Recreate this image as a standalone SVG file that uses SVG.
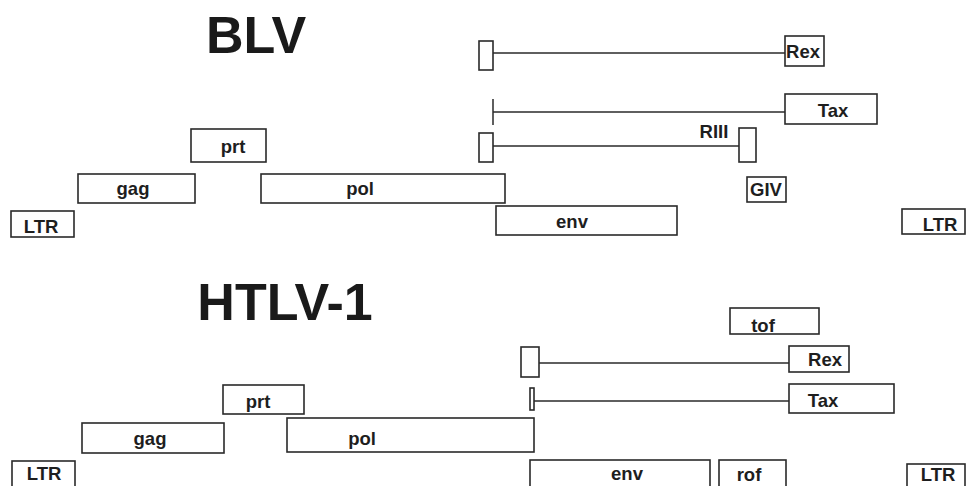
<svg xmlns="http://www.w3.org/2000/svg" width="967" height="486" viewBox="0 0 967 486">
<style>
.b{fill:#fff;stroke:#2a2a2a;stroke-width:1.6}
.t{font-family:"Liberation Sans",Arial,sans-serif;font-weight:bold;font-size:18.5px;fill:#1e1e1e;text-anchor:middle}
.h{font-family:"Liberation Sans",Arial,sans-serif;font-weight:bold;font-size:52px;fill:#1a1a1a;text-anchor:middle}
.c{stroke:#2a2a2a;stroke-width:1.5;fill:none}
</style>
<rect width="967" height="486" fill="#fff"/>
<text class="h" x="256" y="53">BLV</text>
<text class="h" x="285" y="320">HTLV-1</text>

<g id="connectors">
<line class="c" x1="493" y1="53" x2="786" y2="53"/>
<line class="c" x1="493" y1="99" x2="493" y2="125"/>
<line class="c" x1="493" y1="112" x2="785" y2="112"/>
<line class="c" x1="493" y1="146" x2="739" y2="146"/>
<line class="c" x1="539" y1="363" x2="789" y2="363"/>
<line class="c" x1="534" y1="401" x2="789" y2="401"/>
</g>

<g id="blv-ltr-left"><rect class="b" x="11" y="211" width="63" height="26"/><text class="t" x="41" y="233">LTR</text></g>
<g id="blv-gag"><rect class="b" x="78" y="174" width="117" height="29"/><text class="t" x="133" y="195">gag</text></g>
<g id="blv-prt"><rect class="b" x="191" y="129" width="75" height="33"/><text class="t" x="233" y="153">prt</text></g>
<g id="blv-pol"><rect class="b" x="261" y="174" width="244" height="29"/><text class="t" x="360" y="195">pol</text></g>
<g id="blv-env"><rect class="b" x="496" y="206" width="181" height="29"/><text class="t" x="572" y="228">env</text></g>
<g id="blv-ltr-right"><rect class="b" x="902" y="209" width="63" height="25"/><text class="t" x="940" y="231">LTR</text></g>
<g id="blv-rex"><rect class="b" x="479" y="41" width="14" height="29"/><rect class="b" x="785" y="36" width="39" height="30"/><text class="t" x="803" y="58">Rex</text></g>
<g id="blv-tax"><rect class="b" x="785" y="94" width="92" height="30"/><text class="t" x="833" y="117">Tax</text></g>
<g id="blv-riii"><rect class="b" x="479" y="133" width="14" height="29"/><rect class="b" x="739" y="128" width="17" height="34"/><text class="t" x="714" y="138">RIII</text></g>
<g id="blv-giv"><rect class="b" x="747" y="177" width="39" height="25"/><text class="t" x="766" y="196">GIV</text></g>

<g id="htlv-ltr-left"><rect class="b" x="12" y="461" width="63" height="30"/><text class="t" x="44" y="480">LTR</text></g>
<g id="htlv-gag"><rect class="b" x="82" y="423" width="142" height="30"/><text class="t" x="150" y="445">gag</text></g>
<g id="htlv-prt"><rect class="b" x="223" y="385" width="81" height="29"/><text class="t" x="258" y="408">prt</text></g>
<g id="htlv-pol"><rect class="b" x="287" y="418" width="247" height="34"/><text class="t" x="362" y="445">pol</text></g>
<g id="htlv-env"><rect class="b" x="530" y="460" width="180" height="30"/><text class="t" x="627" y="480">env</text></g>
<g id="htlv-rof"><rect class="b" x="719" y="460" width="67" height="30"/><text class="t" x="749" y="481">rof</text></g>
<g id="htlv-ltr-right"><rect class="b" x="907" y="464" width="58" height="26"/><text class="t" x="938" y="481">LTR</text></g>
<g id="htlv-tof"><rect class="b" x="730" y="308" width="89" height="26"/><text class="t" x="763" y="332">tof</text></g>
<g id="htlv-rex"><rect class="b" x="521" y="347" width="18" height="30"/><rect class="b" x="789" y="346" width="60" height="26"/><text class="t" x="825" y="366">Rex</text></g>
<g id="htlv-tax"><rect class="b" x="530" y="388" width="4" height="22"/><rect class="b" x="789" y="384" width="105" height="29"/><text class="t" x="823" y="407">Tax</text></g>
</svg>
